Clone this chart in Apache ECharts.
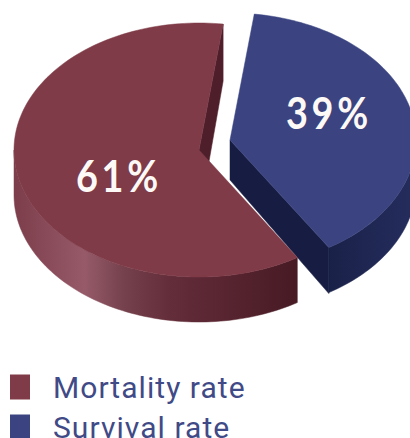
<!DOCTYPE html>
<html><head><meta charset="utf-8">
<style>
html,body{margin:0;padding:0;background:#fff;overflow:hidden}
#c{width:410px;height:438px}
svg text{letter-spacing:.035em}
svg text[style*="44px"]{letter-spacing:.1em}
</style>
<script src="https://cdn.jsdelivr.net/npm/echarts@6/dist/echarts.min.js"></script>
</head><body><div id="c"></div>
<script>
const categories = ['Mortality rate', 'Survival rate'];
const mortalityValues = [61];
const survivalValues = [39];

const RY = 127, DEPTH = 45;
const START_DEG = 7.5;           // where the Survival slice begins, clockwise from top
const TOTAL = mortalityValues[0] + survivalValues[0];
const RED = '#7f3b47', BLUE = '#3b4480', TEXTC = '#3f4a86';

function rim(cx, cy, rx, deg, dy) {
  const t = deg * Math.PI / 180;
  return [cx + rx * Math.sin(t), cy - RY * Math.cos(t) + (dy || 0)];
}
function arc(cx, cy, rx, a, b, dy) {
  const pts = [], n = Math.max(2, Math.ceil(Math.abs(b - a) / 1.5));
  for (let i = 0; i <= n; i++) pts.push(rim(cx, cy, rx, a + (b - a) * i / n, dy));
  return pts;
}
const poly = (points, fill) => ({ type: 'polygon', shape: { points }, style: { fill, stroke: fill, lineWidth: 0.5 } });
const label = (text, x, y) => ({
  type: 'text', x, y, scaleX: 0.86, z2: 10,
  style: { text, fill: '#fdf9f6', font: '700 44px Lato, "Open Sans", sans-serif', align: 'center', verticalAlign: 'middle' }
});

function renderSurvival(params, api) {
  const cx = 230, cy = 140, rx = 186;
  const sweep = api.value(0) / TOTAL * 360;
  const a = START_DEG, b = a + sweep;
  const end = rim(cx, cy, rx, b);
  const side = arc(cx, cy, rx, b, 80).concat(arc(cx, cy, rx, 80, b, DEPTH));
  return { type: 'group', children: [
    poly(side, new echarts.graphic.LinearGradient(0, 0, 1, 0, [
      { offset: 0, color: '#1a2148' }, { offset: 1, color: '#252d5e' }])),
    poly([[cx, cy], end, [end[0], end[1] + DEPTH + 1], [cx, cy + 40]], '#171d42'),
    poly([[cx, cy]].concat(arc(cx, cy, rx, a, b)), BLUE),
    label(api.value(0) + '%', 329, 112)
  ]};
}
function renderMortality(params, api) {
  const cx = 199, cy = 150, rx = 185;
  const sweep = api.value(0) / TOTAL * 360;
  const b = START_DEG + 360;
  const a = b - sweep;
  const s = rim(cx, cy, rx, b);
  const side = arc(cx, cy, rx, a, 270).concat(arc(cx, cy, rx, 270, a, DEPTH));
  return { type: 'group', children: [
    poly(side, new echarts.graphic.LinearGradient(0, 0, 1, 0, [
      { offset: 0, color: '#7d3d4b' }, { offset: 0.25, color: '#965a69' },
      { offset: 0.39, color: '#74414c' }, { offset: 0.55, color: '#642d3a' },
      { offset: 1, color: '#471a24' }])),
    poly([s, [s[0], s[1] + 57], [cx + 2, cy + 57], [cx, cy]], '#4e1f2b'),
    poly([[cx, cy]].concat(arc(cx, cy, rx, a, b)), RED),
    label(api.value(0) + '%', 119, 175)
  ]};
}

const legendBase = {
  left: 10, padding: 0, itemWidth: 20, itemHeight: 25, icon: 'rect', selectedMode: false,
  textStyle: { color: TEXTC, fontSize: 30, lineHeight: 25, fontFamily: 'Roboto, "Liberation Sans", sans-serif', padding: [0, 0, 0, 18] }
};
const chart = echarts.init(document.getElementById('c'), null, { renderer: 'svg', width: 410, height: 438 });
chart.setOption({
  animation: false,
  backgroundColor: '#fff',
  legend: [
    Object.assign({ data: [categories[0]], top: 372 }, legendBase),
    Object.assign({ data: [categories[1]], top: 412 }, legendBase)
  ],
  series: [
    { type: 'custom', name: categories[1], coordinateSystem: 'none', renderItem: renderSurvival, data: survivalValues.map(v => [v]), itemStyle: { color: BLUE }, silent: true },
    { type: 'custom', name: categories[0], coordinateSystem: 'none', renderItem: renderMortality, data: mortalityValues.map(v => [v]), itemStyle: { color: RED }, silent: true }
  ]
});
</script></body></html>
